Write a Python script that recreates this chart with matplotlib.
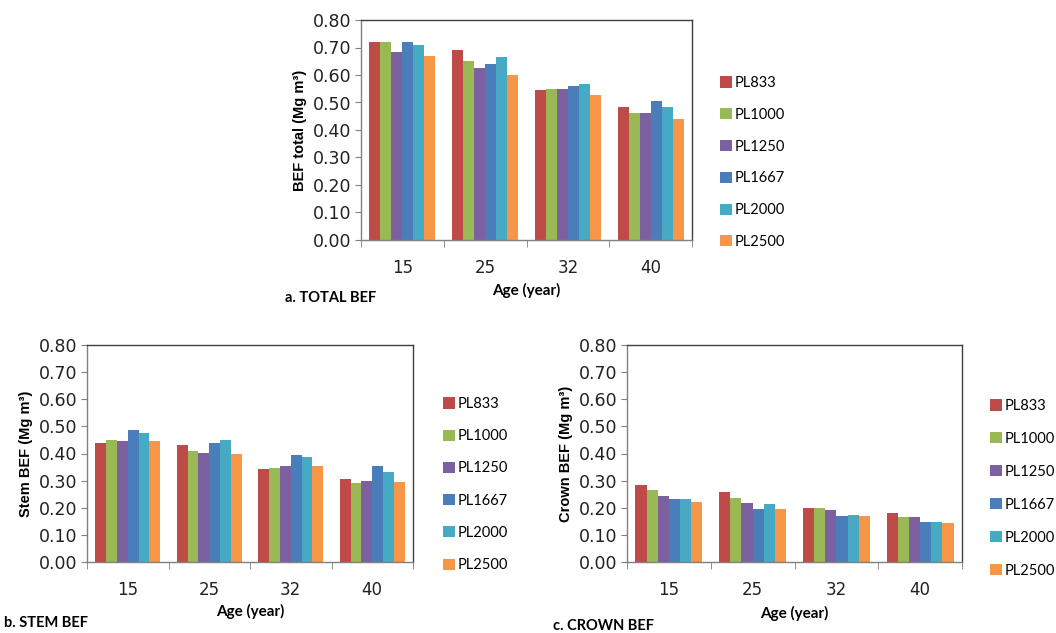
import matplotlib
matplotlib.use("Agg")
import matplotlib.pyplot as plt
import numpy as np

ages = ["15", "25", "32", "40"]
series = ["PL833", "PL1000", "PL1250", "PL1667", "PL2000", "PL2500"]
colors = ["#BE4B48", "#98B954", "#7D60A0", "#4A7EBB", "#46AAC5", "#F79646"]

total_bef = [
    [0.72, 0.69, 0.545, 0.485],
    [0.72, 0.65, 0.550, 0.460],
    [0.685, 0.625, 0.548, 0.463],
    [0.72, 0.64, 0.560, 0.505],
    [0.71, 0.665, 0.567, 0.485],
    [0.67, 0.60, 0.527, 0.440],
]
stem_bef = [
    [0.440, 0.430, 0.343, 0.307],
    [0.450, 0.410, 0.347, 0.290],
    [0.445, 0.402, 0.353, 0.300],
    [0.488, 0.440, 0.393, 0.353],
    [0.476, 0.450, 0.387, 0.333],
    [0.446, 0.400, 0.353, 0.296],
]
crown_bef = [
    [0.283, 0.258, 0.200, 0.180],
    [0.267, 0.237, 0.200, 0.165],
    [0.242, 0.217, 0.190, 0.165],
    [0.232, 0.195, 0.170, 0.148],
    [0.232, 0.212, 0.175, 0.148],
    [0.222, 0.195, 0.170, 0.145],
]
yticks = [0.0, 0.1, 0.2, 0.3, 0.4, 0.5, 0.6, 0.7, 0.8]

W, H = 1056, 633
fig = plt.figure(figsize=(W / 100, H / 100), dpi=100)
fig.patch.set_facecolor("white")

def px_axes(x0, y0, x1, y1):
    return fig.add_axes([x0 / W, 1 - y1 / H, (x1 - x0) / W, (y1 - y0) / H])

def draw(ax, data, ylabel, xlabel_y, caption, cap_xy, leg_x, leg_y0, lspace):
    n = len(series)
    gw = 0.8
    bw = gw / n
    x = np.arange(len(ages))
    for i, (s, c) in enumerate(zip(series, colors)):
        ax.bar(x - gw / 2 + bw * (i + 0.5), data[i], width=bw, color=c,
               edgecolor="none", label=s)
    ax.set_xlim(-0.5, len(ages) - 0.5)
    ax.set_ylim(0, 0.8)
    ax.set_yticks(yticks)
    ax.set_yticklabels([f"{v:.2f}" for v in yticks], fontsize=12.5,
                       family="DejaVu Sans", color="#222222")
    ax.set_xticks(x)
    ax.set_xticklabels(ages, fontsize=12, family="DejaVu Sans", color="#222222")
    ax.set_xticks(np.arange(len(ages) + 1) - 0.5, minor=True)
    ax.tick_params(axis="x", which="major", length=0, pad=14)
    ax.tick_params(axis="x", which="minor", length=5, color="#808080")
    ax.tick_params(axis="y", length=4, color="#808080", pad=3)
    for sp in ax.spines.values():
        sp.set_color("#808080")
        sp.set_linewidth(1.0)
    ax.spines["top"].set_color("#404040")
    ax.spines["right"].set_color("#404040")
    ax.set_ylabel(ylabel, fontsize=10.5, fontweight="bold", family="Liberation Sans",
                  labelpad=4)
    pos = ax.get_position()
    fig.text((pos.x0 + pos.x1) / 2, 1 - xlabel_y / H, "Age (year)",
             fontsize=11, fontweight="bold", family="Lato",
             ha="center", va="center")
    fig.text(cap_xy[0] / W, 1 - cap_xy[1] / H, caption, fontsize=10.5,
             fontweight="bold", family="Lato", ha="left", va="center")
    handles, labels = ax.get_legend_handles_labels()
    fig.legend(handles, labels, loc="upper left",
               bbox_to_anchor=(leg_x / W, 1 - leg_y0 / H),
               frameon=False, handlelength=0.8, borderpad=0,
               handleheight=0.8, handletextpad=0.2, labelspacing=lspace,
               borderaxespad=0, prop={"family": "Lato", "size": 10.5})

ax1 = px_axes(361, 20, 692, 240)
draw(ax1, total_bef, "BEF total (Mg m³)", 290, "a. TOTAL BEF", (285, 298), 720, 76, 1.22)

ax2 = px_axes(87, 345, 413, 562)
draw(ax2, stem_bef, "Stem BEF (Mg m³)", 611, "b. STEM BEF", (4, 623), 443, 397, 1.25)

ax3 = px_axes(627, 345, 962, 562)
draw(ax3, crown_bef, "Crown BEF (Mg m³)", 613, "c. CROWN BEF", (553, 626), 990, 399, 1.3)

fig.savefig("out.png", dpi=100, facecolor="white")
